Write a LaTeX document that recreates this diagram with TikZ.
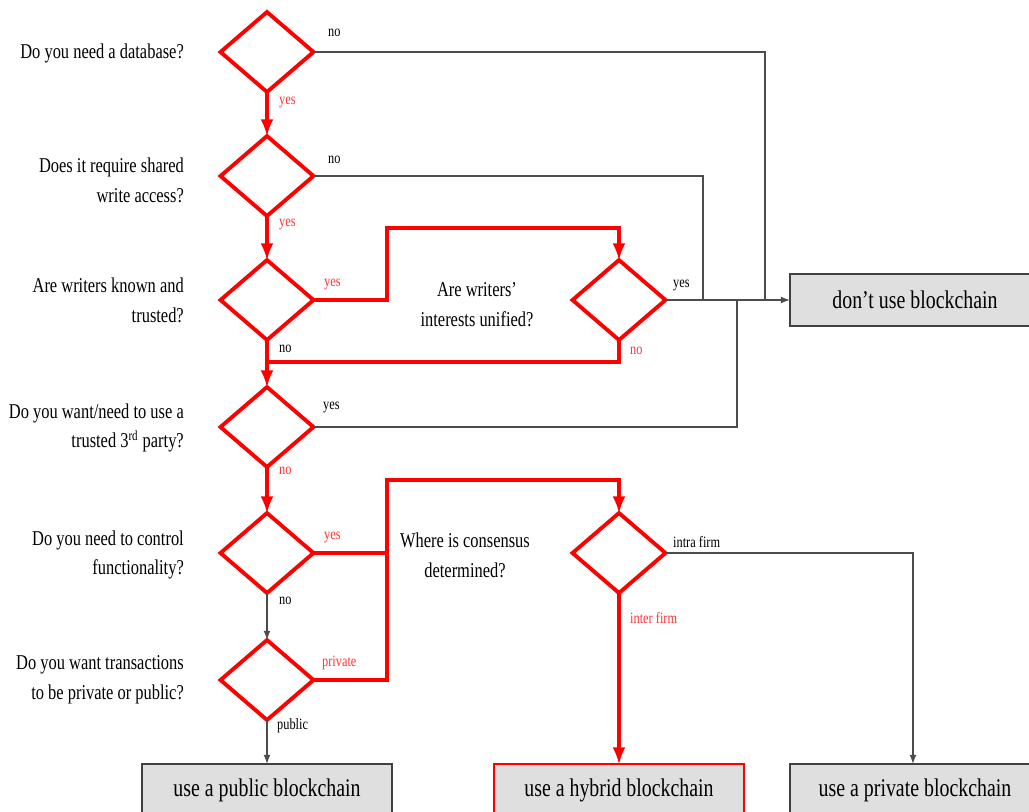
\documentclass[tikz,border=0pt]{standalone}
\usepackage{fontspec}
\setmainfont{Liberation Serif}[FakeStretch=0.78]
\usetikzlibrary{arrows,shapes.geometric}

\begin{document}
\begin{tikzpicture}[x=0.02cm,y=-0.02cm,
		decision/.style={diamond,draw=red,line width=2.2pt,minimum width=1.86cm,minimum height=1.6cm,inner sep=0pt,outer sep=0pt},
		outcome/.style={rectangle,draw=black!75,line width=0.8pt,fill=gray!25,minimum width=5cm,minimum height=1.04cm,outer sep=0pt,font=\fontsize{14.5}{18}\selectfont},
		question/.style={left,align=right,font=\fontsize{12}{17}\selectfont},
		midtext/.style={align=center,font=\fontsize{12}{17}\selectfont},
		redline/.style={draw=red,line width=2.2pt},
		greyline/.style={draw=black!70,line width=0.8pt},
		tag/.style={font=\fontsize{9}{10}\selectfont},
		redtag/.style={tag,text=red!80}]
		\useasboundingbox (0,0) rectangle (1029,812);
		% left column of questions
		\node[decision] (d1) at (267,52) {};
		\node[decision] (d2) at (267,176) {};
		\node[decision] (d3) at (267,300) {};
		\node[decision] (d4) at (267,427) {};
		\node[decision] (d5) at (267,553) {};
		\node[decision] (d6) at (267,680) {};
		\node[decision] (rd) at (619,300) {};
		\node[decision] (cd) at (619,553) {};
		\node[question] (q1) at (190,53) {Do you need a database?};
		\node[question] (q2) at (190,180) {Does it require shared\\write access?};
		\node[question] (q3) at (190,300) {Are writers known and\\trusted?};
		\node[question] (q4) at (190,428) {Do you want/need to use a\\trusted 3\textsuperscript{rd} party?};
		\node[question] (q5) at (190,555) {Do you need to control\\functionality?};
		\node[question] (q6) at (190,680) {Do you want transactions\\to be private or public?};
		\node[midtext] (mq1) at (477,305) {Are writers'\\interests unified?};
		\node[midtext] (mq2) at (465,555) {Where is consensus\\determined?};
		% outcomes
		\node[outcome] (dont) at (915,300) {don't use blockchain};
		\node[outcome] (pub) at (267,790) {use a public blockchain};
		\node[outcome,draw=red,line width=1.2pt] (hyb) at (619,790) {use a hybrid blockchain};
		\node[outcome] (priv) at (915,790) {use a private blockchain};
		% junctions
		\coordinate (j1) at (765,300);
		\coordinate (j2) at (703,300);
		\coordinate (j4) at (737,300);
		\coordinate (c1) at (387,228);
		\coordinate (c2) at (619,228);
		\coordinate (m3) at (267,362);
		\coordinate (c3) at (387,480);
		\coordinate (c4) at (619,480);
		\coordinate (k1) at (913,553);
		% grey connectors
		\draw[greyline] (d1.east) -| (j1);
		\draw[greyline] (d2.east) -| (j2);
		\draw[greyline] (d4.east) -| (j4);
		\draw[greyline,-latex] (rd.east) -- (dont.west);
		\draw[greyline,-latex] (d5.south) -- (d6.north);
		\draw[greyline,-latex] (d6.south) -- (pub.north);
		\draw[greyline,-latex] (cd.east) -- (k1) -- (k1 |- priv.north);
		% red connectors
		\draw[redline,-latex] (d1.south) -- (d2.north);
		\draw[redline,-latex] (d2.south) -- (d3.north);
		\draw[redline,-latex] (d3.east) -| (c1) -- (c2) -- (rd.north);
		\draw[redline] (rd.south) |- (m3);
		\draw[redline,-latex] (d3.south) -- (d4.north);
		\draw[redline,-latex] (d4.south) -- (d5.north);
		\draw[redline] (d5.east) -- (d5.east -| c3);
		\draw[redline,-latex] (d6.east) -| (c3) -- (c4) -- (cd.north);
		\draw[redline,-latex] (cd.south) -- (hyb.north);
		% branch labels
		\node[tag,right] (t1) at (322,33) {no};
		\node[redtag,right] (t2) at (273,102) {yes};
		\node[tag,right] (t3) at (322,160) {no};
		\node[redtag,right] (t4) at (273,224) {yes};
		\node[redtag,right] (t5) at (318,284) {yes};
		\node[tag,right] (t6) at (273,349) {no};
		\node[tag,right] (t7) at (667,285) {yes};
		\node[redtag,right] (t8) at (624,351) {no};
		\node[tag,right] (t9) at (317,407) {yes};
		\node[redtag,right] (t10) at (273,471) {no};
		\node[redtag,right] (t11) at (318,537) {yes};
		\node[tag,right] (t12) at (273,601) {no};
		\node[redtag,right] (t13) at (316,663) {private};
		\node[tag,right] (t14) at (271,726) {public};
		\node[tag,right] (t15) at (667,542) {intra firm};
		\node[redtag,right] (t16) at (624,618) {inter firm};
	\end{tikzpicture}
\end{document}
